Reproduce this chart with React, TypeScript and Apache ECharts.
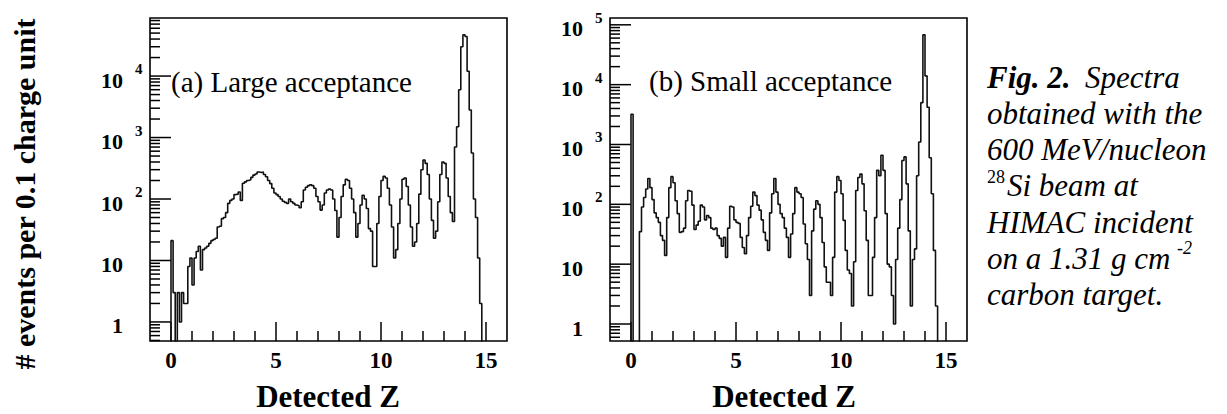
import React, { useEffect, useRef } from "react";
import * as echarts from "echarts";

// ---------- data ----------
const BIN = 0.1; // bin width in charge units
// (a) Large acceptance: counts per 0.1 charge unit, bins from Z = 0
const countsA = [
  21, 3, 0, 3, 1, 3, 2, 2, 8, 11,
  4, 11, 14, 17, 7, 15, 16, 17, 19, 21,
  22, 23, 35, 36, 48, 50, 60, 85, 95, 100,
  118, 120, 130, 95, 180, 190, 200, 205, 225, 245,
  255, 275, 270, 275, 250, 230, 200, 178, 150, 125,
  118, 110, 100, 92, 88, 85, 100, 90, 85, 80,
  78, 72, 90, 140, 155, 165, 170, 165, 150, 110,
  90, 66, 80, 125, 140, 145, 140, 100, 65, 24,
  50, 110, 170, 210, 200, 150, 100, 60, 24, 40,
  80, 115, 100, 70, 33, 30, 8, 8, 40, 110,
  200, 235, 220, 150, 80, 35, 11, 15, 40, 100,
  210, 220, 160, 80, 35, 17, 20, 40, 120, 300,
  430, 380, 250, 100, 45, 23, 30, 90, 250, 400,
  380, 220, 110, 60, 43, 700, 1500, 6000, 30000, 47000,
  44000, 12000, 2800, 560, 100, 50, 11, 2, 0,
];
// (b) Small acceptance
const countsB = [
  3200, 0, 0, 0, 35, 90, 130, 180, 270, 190,
  120, 72, 60, 50, 30, 25, 14, 60, 190, 290,
  230, 115, 70, 34, 35, 40, 115, 170, 165, 97,
  38, 45, 52, 97, 90, 55, 65, 60, 40, 38,
  40, 30, 27, 20, 28, 13, 40, 93, 90, 55,
  50, 48, 28, 19, 15, 30, 60, 93, 160, 140,
  97, 80, 55, 34, 25, 17, 72, 150, 270, 160,
  100, 70, 60, 40, 28, 13, 32, 70, 190, 160,
  150, 130, 47, 22, 12, 3, 36, 83, 115, 100,
  60, 23, 9, 5, 5, 3, 13, 160, 290, 250,
  150, 54, 17, 8, 7, 2, 11, 170, 280, 320,
  220, 78, 25, 3, 3, 13, 60, 370, 300, 660,
  370, 70, 10, 9, 3, 1, 12, 40, 120, 540,
  620, 220, 36, 2, 12, 18, 300, 1100, 5000, 68000,
  14000, 4200, 600, 150, 17, 2, 0,
];

// ticks and tick labels
const xTickValues = [0, 1, 2, 3, 4, 5, 6, 7, 8, 9, 10, 11, 12, 13, 14, 15];
const xLabelValues = [0, 5, 10, 15];
const yLabelExpA = [0, 1, 2, 3, 4];
const yLabelExpB = [0, 1, 2, 3, 4, 5];
const minorMultipliers = [2, 3, 4, 5, 6, 7, 8, 9];
const belowOneTicks = [0.5, 0.6, 0.7, 0.8, 0.9];

// axis extents
const X_MIN = -1;
const X_MAX = 16;
const Y_RANGE_A = [0.49, 88000];
const Y_RANGE_B = [0.52, 130000];
const FLOOR = 0.05; // stands in for empty bins (below the axis, clipped)

const SERIF = "Liberation Serif";

function histSteps(vals: number[]) {
  const pts: number[][] = [[0, FLOOR]];
  vals.forEach((v, i) => {
    const y = v > 0 ? v : FLOOR;
    pts.push([+(i * BIN).toFixed(2), y], [+((i + 1) * BIN).toFixed(2), y]);
  });
  pts.push([+(vals.length * BIN).toFixed(2), FLOOR]);
  return pts;
}

function yTickData(range: number[], exps: number[]) {
  const d: number[][] = [];
  for (const v of belowOneTicks) if (v >= range[0]) d.push([X_MIN, v, 0, -1]);
  for (let k = 0; k <= 5; k++) {
    const base = Math.pow(10, k);
    if (base <= range[1]) d.push([X_MIN, base, 1, exps.includes(k) ? k : -1]);
    for (const m of minorMultipliers) if (m * base <= range[1]) d.push([X_MIN, m * base, 0, -1]);
  }
  return d;
}

function xTickData(range: number[]) {
  return xTickValues.map((v) => [v, range[0], v % 5 === 0 ? 1 : 0, xLabelValues.includes(v) ? 1 : 0]);
}

function fs(size: number, weight = "normal", style = "normal") {
  return { fontFamily: SERIF, fontSize: size, fontWeight: weight, fontStyle: style };
}

const renderYTick = (_p: any, api: any) => {
  const p = api.coord([api.value(0), api.value(1)]);
  const major = api.value(2) === 1;
  const exp = api.value(3);
  const len = major ? 21 : 10;
  const children: any[] = [
    { type: "line", shape: { x1: p[0], y1: p[1], x2: p[0] + len, y2: p[1] }, style: { stroke: "#000", lineWidth: 1.5 } },
  ];
  if (exp >= 0) {
    children.push({
      type: "text",
      x: p[0] - 27,
      y: p[1] + 4,
      style: { text: exp === 0 ? "1" : "10", ...fs(22, "bold"), fill: "#000", align: "right", verticalAlign: "middle" },
    });
    if (exp >= 2) {
      children.push({
        type: "text",
        x: p[0] - 15,
        y: p[1] - 7,
        style: { text: String(exp), ...fs(15, "bold"), fill: "#000", align: "left", verticalAlign: "middle" },
      });
    }
  }
  return { type: "group", children };
};

const renderXTick = (_p: any, api: any) => {
  const p = api.coord([api.value(0), api.value(1)]);
  const major = api.value(2) === 1;
  const len = major ? 19 : 10;
  const children: any[] = [
    { type: "line", shape: { x1: p[0], y1: p[1], x2: p[0], y2: p[1] - len }, style: { stroke: "#000", lineWidth: 1.5 } },
  ];
  if (api.value(3) === 1) {
    children.push({
      type: "text",
      x: p[0],
      y: p[1] + 19,
      style: { text: String(api.value(0)), ...fs(23, "bold"), fill: "#000", align: "center", verticalAlign: "middle" },
    });
  }
  return { type: "group", children };
};

function txt(x: number, y: number, text: string, font: any, extra: any = {}) {
  return {
    type: "text",
    x,
    y,
    z: 100,
    style: { text, ...font, fill: "#000", align: "left", verticalAlign: "middle", ...extra },
  };
}

export default function App() {
  const ref = useRef<HTMLDivElement>(null);
  useEffect(() => {
    if (!ref.current) return;
    const chart = echarts.init(ref.current, undefined, { renderer: "svg" });
    const hideAxis = { axisLine: { show: false }, axisTick: { show: false }, axisLabel: { show: false }, splitLine: { show: false } };
    const capFont = fs(31, "normal", "italic");
    const capX = 987;
    const capY0 = 77;
    const dy = 36.3;
    chart.setOption({
      animation: false,
      backgroundColor: "#fff",
      grid: [
        { left: 150, top: 18, width: 357, height: 323, show: true, borderColor: "#000", borderWidth: 1.6, backgroundColor: "transparent" },
        { left: 610, top: 18, width: 357, height: 323, show: true, borderColor: "#000", borderWidth: 1.6, backgroundColor: "transparent" },
      ],
      xAxis: [
        { type: "value", gridIndex: 0, min: X_MIN, max: X_MAX, ...hideAxis },
        { type: "value", gridIndex: 1, min: X_MIN, max: X_MAX, ...hideAxis },
      ],
      yAxis: [
        { type: "log", logBase: 10, gridIndex: 0, min: Y_RANGE_A[0], max: Y_RANGE_A[1], ...hideAxis },
        { type: "log", logBase: 10, gridIndex: 1, min: Y_RANGE_B[0], max: Y_RANGE_B[1], ...hideAxis },
      ],
      series: [
        {
          type: "line", xAxisIndex: 0, yAxisIndex: 0, data: histSteps(countsA), symbol: "none", silent: true,
          lineStyle: { color: "#111", width: 1.6 }, clip: true,
        },
        {
          type: "line", xAxisIndex: 1, yAxisIndex: 1, data: histSteps(countsB), symbol: "none", silent: true,
          lineStyle: { color: "#111", width: 1.6 }, clip: true,
        },
        { type: "custom", xAxisIndex: 0, yAxisIndex: 0, data: yTickData(Y_RANGE_A, yLabelExpA), renderItem: renderYTick, clip: false, silent: true, encode: { x: 0, y: 1 } },
        { type: "custom", xAxisIndex: 1, yAxisIndex: 1, data: yTickData(Y_RANGE_B, yLabelExpB), renderItem: renderYTick, clip: false, silent: true, encode: { x: 0, y: 1 } },
        { type: "custom", xAxisIndex: 0, yAxisIndex: 0, data: xTickData(Y_RANGE_A), renderItem: renderXTick, clip: false, silent: true, encode: { x: 0, y: 1 } },
        { type: "custom", xAxisIndex: 1, yAxisIndex: 1, data: xTickData(Y_RANGE_B), renderItem: renderXTick, clip: false, silent: true, encode: { x: 0, y: 1 } },
      ],
      graphic: [
        txt(171, 82, "(a) Large acceptance", fs(29)),
        txt(649, 81, "(b) Small acceptance", fs(29)),
        txt(328, 396, "Detected Z", fs(31, "bold"), { align: "center", lineHeight: 30 }),
        txt(784, 396, "Detected Z", fs(31, "bold"), { align: "center", lineHeight: 30 }),
        {
          type: "text", x: 24, y: 194, rotation: Math.PI / 2, z: 100,
          style: { text: "# events per 0.1 charge unit", ...fs(30, "bold"), fill: "#000", align: "center", verticalAlign: "middle", lineHeight: 30 },
        },
        txt(capX, capY0, "Fig. 2.", fs(31, "bold", "italic")),
        txt(capX + 98, capY0, "Spectra", capFont),
        txt(capX, capY0 + dy, "obtained with the", capFont),
        txt(capX, capY0 + 2 * dy, "600 MeV/nucleon", capFont),
        txt(capX, capY0 + 3 * dy - 9, "28", fs(18)),
        txt(capX + 20, capY0 + 3 * dy, "Si beam at", capFont),
        txt(capX, capY0 + 4 * dy, "HIMAC incident", capFont),
        txt(capX, capY0 + 5 * dy, "on a 1.31 g cm", capFont),
        txt(capX + 190, capY0 + 5 * dy - 11, "-2", fs(18, "normal", "italic")),
        txt(capX, capY0 + 6 * dy, "carbon target.", capFont),
      ],
    });
    return () => chart.dispose();
  }, []);
  return (
    <div
      ref={ref}
      style={{ position: "fixed", left: 0, top: 0, width: 1227, height: 414, background: "#fff" }}
    />
  );
}
